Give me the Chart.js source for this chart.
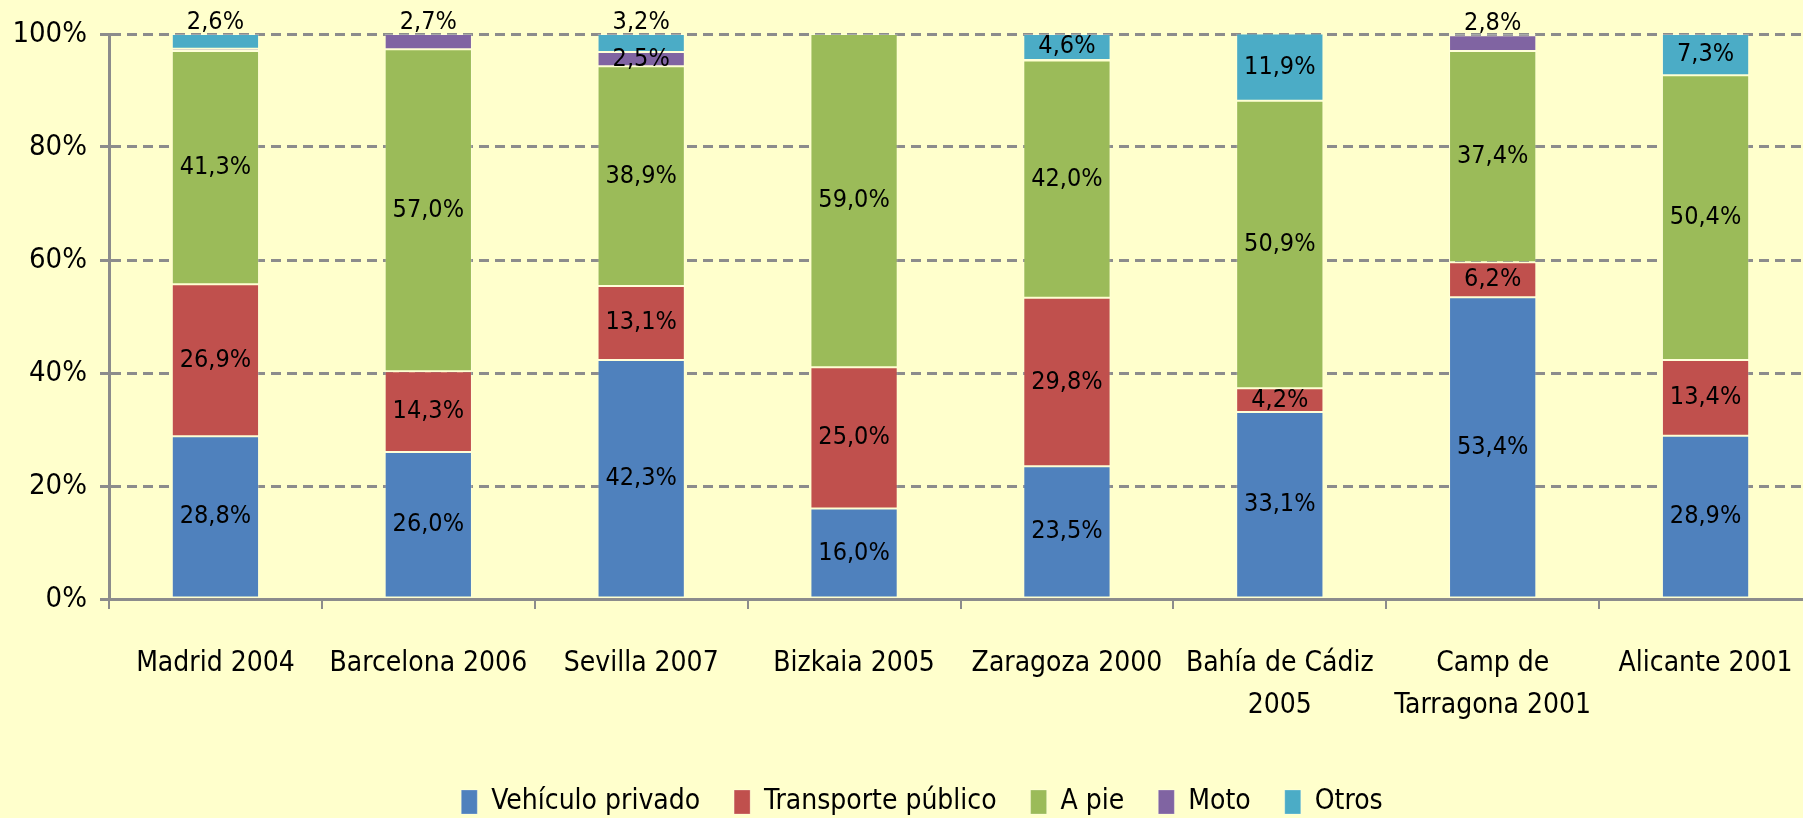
<!DOCTYPE html>
<html>
<head>
<meta charset="utf-8">
<script src="https://cdn.jsdelivr.net/npm/chart.js@4.4.1/dist/chart.umd.min.js"></script>
<style>
    body { margin: 0; background: #FFFFCC; overflow: hidden; }
    #caja { width: 1844px; height: 818px; }
</style>
</head>
<body>
<div id="caja"><canvas id="grafico"></canvas></div>
<script>
const ciudades = ["Madrid 2004", "Barcelona 2006", "Sevilla 2007", "Bizkaia 2005", "Zaragoza 2000",
    ["Bahía de Cádiz", "2005"], ["Camp de", "Tarragona 2001"], "Alicante 2001"];

const vehiculoPrivado = [28.8, 26.0, 42.3, 16.0, 23.5, 33.1, 53.4, 28.9];
const transportePublico = [26.9, 14.3, 13.1, 25.0, 29.8, 4.2, 6.2, 13.4];
const aPie = [41.3, 57.0, 38.9, 59.0, 42.0, 50.9, 37.4, 50.4];
const moto = [0.4, 2.7, 2.5, 0, 0.1, 0, 2.8, 0];
const otros = [2.6, 0, 3.2, 0, 4.6, 11.9, 0.2, 7.3];

const marcasEje = [0, 20, 40, 60, 80, 100];

const fuente = '"Liberation Sans Narrow", "DejaVu Sans Condensed", sans-serif';

function serie(nombre, datos, color) {
    return {
        label: nombre,
        data: datos,
        backgroundColor: color,
        borderColor: 'rgba(255,255,255,0.25)',
        borderWidth: 1,
        borderSkipped: false,
        barPercentage: 0.41,
        categoryPercentage: 1
    };
}

// etiquetas de valor dentro de cada tramo
const etiquetas = {
    id: 'etiquetas',
    afterDatasetsDraw(chart) {
        const ctx = chart.ctx;
        ctx.save();
        ctx.font = '25px ' + fuente;
        ctx.fillStyle = '#000';
        ctx.textAlign = 'center';
        ctx.textBaseline = 'middle';
        const n = chart.data.datasets.length;
        chart.data.datasets.forEach((ds, i) => {
            const meta = chart.getDatasetMeta(i);
            meta.data.forEach((barra, j) => {
                const valor = ds.data[j];
                if (valor < 1) return;
                let arriba = true;
                for (let k = i + 1; k < n; k++) {
                    if (chart.data.datasets[k].data[j] >= 1) arriba = false;
                }
                let y = (barra.y + barra.base) / 2;
                if (valor < 4 && arriba) y = barra.y - 12;
                ctx.fillText(valor.toFixed(1).replace('.', ',') + '%', barra.x, y);
            });
        });
        ctx.restore();
    }
};

// la leyenda va algo desplazada a la derecha
const moverLeyenda = {
    id: 'moverLeyenda',
    afterLayout(chart) {
        chart.legend.left += 32;
    }
};

new Chart(document.querySelector("#grafico"), {
    type: 'bar',
    data: {
        labels: ciudades,
        datasets: [
            serie('Vehículo privado', vehiculoPrivado, '#4F81BD'),
            serie('Transporte público', transportePublico, '#C0504D'),
            serie('A pie', aPie, '#9BBB59'),
            serie('Moto', moto, '#8064A2'),
            serie('Otros', otros, '#4BACC6')
        ]
    },
    plugins: [etiquetas, moverLeyenda],
    options: {
        responsive: true,
        maintainAspectRatio: false,
        animation: false,
        layout: { padding: { top: 34, right: 32, bottom: -8, left: 0 } },
        plugins: {
            tooltip: { enabled: false },
            legend: {
                position: 'bottom',
                labels: {
                    color: '#000',
                    font: { family: fuente, size: 28 },
                    boxWidth: 16,
                    boxHeight: 24,
                    padding: 34
                }
            }
        },
        scales: {
            x: {
                stacked: true,
                grid: { offset: true, drawOnChartArea: false, drawTicks: true, tickLength: 10, color: '#8C8C8C', lineWidth: 2 },
                border: { color: '#8C8C8C', width: 3 },
                ticks: { color: '#000', font: { family: fuente, size: 28, lineHeight: 1.5 }, padding: 34, maxRotation: 0, autoSkip: false },
                afterFit: escala => { escala.height = 155; }
            },
            y: {
                stacked: true,
                min: 0,
                max: 100,
                afterBuildTicks: escala => { escala.ticks = marcasEje.map(v => ({ value: v })); },
                grid: { color: '#8C8C8C', lineWidth: 3, tickLength: 9, tickBorderDash: [] },
                border: { color: '#8C8C8C', width: 3, dash: [10, 6] },
                ticks: { color: '#000', font: { family: fuente, size: 29 }, padding: 13, callback: v => v + '%' },
                afterFit: escala => { escala.width = 109; }
            }
        }
    }
});
</script>
</body>
</html>
